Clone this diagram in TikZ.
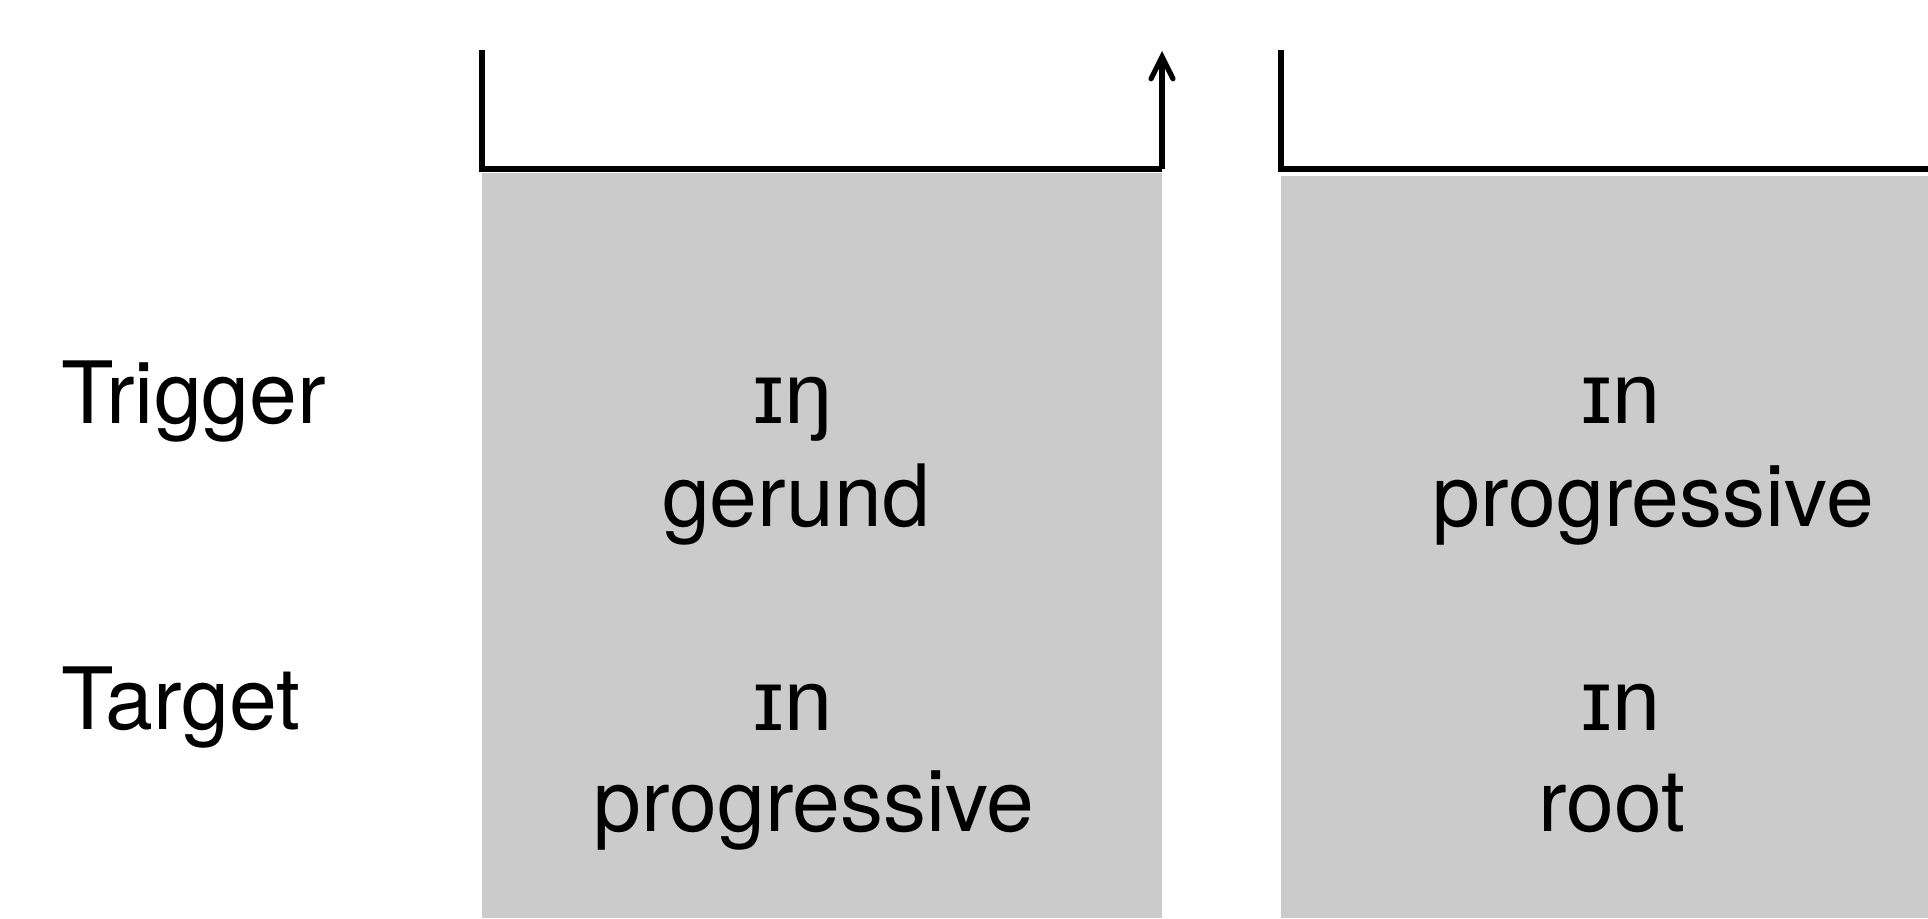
\documentclass[tikz,border=0pt]{standalone}
\usepackage{fontspec}
\setmainfont{TeX Gyre Heros}
\newfontfamily\ipafont{Liberation Sans}
\usetikzlibrary{arrows.meta}
\definecolor{boxgray}{RGB}{203,203,203}
\tikzset{
  lbl/.style={inner sep=0pt, font=\fontsize{43}{50}\selectfont},
  bracket/.style={line width=2.6pt, line cap=butt, line join=miter},
  panel/.style={fill=boxgray, draw=none}
}
\begin{document}
\begin{tikzpicture}[x=0.5pt, y=-0.5pt]
\useasboundingbox (0,0) rectangle (1928,918);
% gray panels
\fill[panel] (482,173) rectangle (1162,918);
\fill[panel] (1281,176) rectangle (1928,918);
% bracket coordinates
\coordinate (b1tl) at (482,50);
\coordinate (b1bl) at (482,169);
\coordinate (b1br) at (1162,169);
\coordinate (b1tr) at (1162,51);
\coordinate (b2tl) at (1281,50);
\coordinate (b2bl) at (1281,169);
\coordinate (b2br) at (1928,169);
\draw[bracket] (b1tl) -- (b1bl) -- (b1br);
\draw[bracket, -{Straight Barb[length=11pt, width=11pt, line cap=round]}] (b1br) -- (b1tr);
\draw[bracket] (b2tl) -- (b2bl) -- (b2br);
% row labels
\node[lbl, anchor=base west] (trig) at (61,423) {Trigger};
\node[lbl, anchor=base west] (targ) at (61,729) {Target};
% panel 1
\node[lbl, anchor=base] (p1a) at (793,423) {\ipafont ɪŋ};
\node[lbl, anchor=base] (p1b) at (796,526) {gerund};
\node[lbl, anchor=base] (p1c) at (793,730) {\ipafont ɪn};
\node[lbl, anchor=base] (p1d) at (814,831) {progressive};
% panel 2
\node[lbl, anchor=base] (p2a) at (1621,423) {\ipafont ɪn};
\node[lbl, anchor=base] (p2b) at (1653,526) {progressive};
\node[lbl, anchor=base] (p2c) at (1621,730) {\ipafont ɪn};
\node[lbl, anchor=base] (p2d) at (1612,831) {root};
\end{tikzpicture}
\end{document}
